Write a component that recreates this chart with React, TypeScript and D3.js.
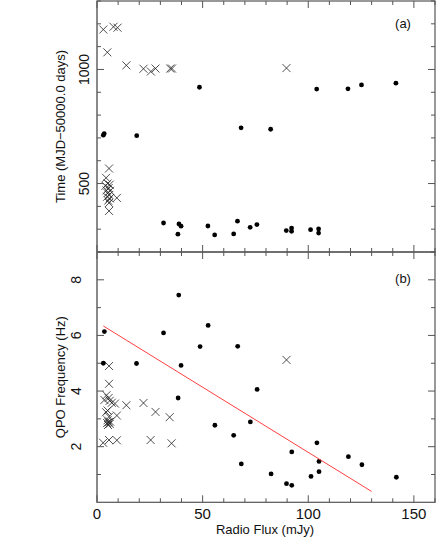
import React from "react";
import * as d3 from "d3";

// Panel (a): Time vs Radio Flux ; Panel (b): QPO frequency vs Radio Flux
const dotsTime: [number, number][] = [
  [48.5, 922], [68.2, 744], [82.2, 738], [104.0, 914], [118.8, 915], [125.2, 932], [141.5, 940],
  [3.0, 712], [3.4, 719], [18.8, 710],
  [31.5, 327], [38.3, 278], [38.8, 323], [39.8, 313], [52.5, 314], [55.7, 275], [64.7, 279],
  [66.5, 335], [72.5, 308], [75.7, 320], [89.6, 294], [92.1, 305], [92.1, 291], [101.1, 298],
  [104.9, 301], [104.9, 283],
];

const crossesTime: [number, number][] = [
  [3.0, 1175], [4.9, 1075], [7.8, 1187], [9.7, 1183], [13.9, 1018], [22.0, 1003], [25.5, 991],
  [27.7, 1004], [34.7, 1004], [35.5, 1004], [89.7, 1006],
  [5.7, 566], [4.3, 525], [5.0, 500], [4.0, 490], [6.0, 495], [5.5, 480], [4.5, 470], [6.2, 468],
  [5.0, 458], [5.8, 450], [4.8, 442], [6.0, 435], [5.3, 425], [5.7, 415], [9.4, 437], [5.7, 380],
];

const dotsQpo: [number, number][] = [
  [3.0, 5.0], [3.5, 6.14], [18.7, 4.99], [31.5, 6.09], [38.7, 7.45], [39.8, 4.92], [38.4, 3.75],
  [48.8, 5.6], [52.6, 6.36], [55.8, 2.77], [64.7, 2.41], [66.6, 5.61], [68.3, 1.38], [72.6, 2.89],
  [75.8, 4.06], [82.4, 1.02], [89.7, 0.67], [92.2, 0.61], [92.2, 1.81], [101.3, 0.93], [104.1, 2.14],
  [105.1, 1.47], [105.1, 1.1], [119.0, 1.64], [125.4, 1.35], [141.7, 0.9],
];

const crossesQpo: [number, number][] = [
  [2.9, 2.14], [5.7, 2.24], [9.4, 2.23], [5.7, 4.9], [5.7, 4.26], [9.4, 3.12], [13.9, 3.49],
  [22.0, 3.57], [27.7, 3.25], [34.4, 3.06], [25.4, 2.24], [35.3, 2.12], [89.7, 5.12],
  [3.5, 3.68], [4.5, 3.85], [5.5, 3.75], [6.0, 3.65], [7.0, 3.58], [8.5, 3.55], [4.3, 3.24],
  [5.0, 3.3], [5.7, 3.08], [5.0, 2.95], [5.5, 2.88], [6.0, 2.82], [5.2, 2.78], [6.2, 2.9], [4.8, 2.85],
];

const fitLine: [number, number][] = [[3, 6.34], [130, 0.39]];

const xMajor = [0, 50, 100, 150];
const xMinor = d3.range(0, 161, 10);
const yaMajor = [500, 1000];
const yaMinor = d3.range(300, 1301, 100);
const ybMajor = [2, 4, 6, 8];
const ybMinor = d3.range(1, 10, 1);

const W = 436, H = 541;
const L = 97, R = 435, T = 1, MID = 252, B = 502.3;
const FONT = "'Liberation Sans', Arial, Helvetica, sans-serif";

export default function App() {
  const x = d3.scaleLinear().domain([0, 160]).range([L, R]);
  const ya = d3.scaleLinear().domain([200, 1300]).range([MID, T]);
  const yb = d3.scaleLinear().domain([0, 9]).range([B, MID]);
  const line = d3.line<[number, number]>().x(d => x(d[0])).y(d => yb(d[1]));
  const frame = "#555";
  const maj = 7, min = 4;

  const xTicks = (top: number, bottom: number) => (
    <g stroke={frame} strokeWidth={1}>
      {xMinor.map(v => {
        const len = xMajor.includes(v) ? maj : min;
        return (
          <g key={v}>
            <line x1={x(v)} x2={x(v)} y1={top} y2={top + len} />
            <line x1={x(v)} x2={x(v)} y1={bottom} y2={bottom - len} />
          </g>
        );
      })}
    </g>
  );

  const yTicks = (scale: d3.ScaleLinear<number, number>, minor: number[], major: number[]) => (
    <g stroke={frame} strokeWidth={1}>
      {minor.map(v => {
        const len = major.includes(v) ? maj : min;
        return (
          <g key={v}>
            <line x1={L} x2={L + len} y1={scale(v)} y2={scale(v)} />
            <line x1={R} x2={R - len} y1={scale(v)} y2={scale(v)} />
          </g>
        );
      })}
    </g>
  );

  const cross = (cx: number, cy: number, k: string) => {
    const s = 4;
    return (
      <path key={k} d={`M${cx - s},${cy - s}L${cx + s},${cy + s}M${cx - s},${cy + s}L${cx + s},${cy - s}`}
        stroke="#222" strokeWidth={0.8} fill="none" />
    );
  };

  return (
    <svg width={W} height={H} style={{ position: "absolute", left: 0, top: 0, background: "#fff" }}
      fontFamily={FONT}>
      <rect x={0} y={0} width={W} height={H} fill="#fff" />
      {/* panel a */}
      {crossesTime.map((d, i) => cross(x(d[0]), ya(d[1]), "ca" + i))}
      {dotsTime.map((d, i) => <circle key={"da" + i} cx={x(d[0])} cy={ya(d[1])} r={2.4} fill="#000" />)}
      {/* panel b */}
      {crossesQpo.map((d, i) => cross(x(d[0]), yb(d[1]), "cb" + i))}
      {dotsQpo.map((d, i) => <circle key={"db" + i} cx={x(d[0])} cy={yb(d[1])} r={2.4} fill="#000" />)}
      <path d={line(fitLine) || ""} stroke="#ff4040" strokeWidth={1} fill="none" />

      {/* frames */}
      <rect x={L} y={T} width={R - L} height={MID - T} fill="none" stroke={frame} strokeWidth={1.2} />
      <rect x={L} y={MID} width={R - L} height={B - MID} fill="none" stroke={frame} strokeWidth={1.2} />
      <line x1={L} x2={L} y1={T} y2={B} stroke="#888" strokeWidth={1.8} />
      {xTicks(T, MID)}
      {xTicks(MID, B)}
      {yTicks(ya, yaMinor, yaMajor)}
      {yTicks(yb, ybMinor, ybMajor)}

      {/* tick labels */}
      <g fill="#111">
        {xMajor.map(v => (
          <text key={v} x={x(v)} y={B + 17} textAnchor="middle" fontSize={15}>{v}</text>
        ))}
        {yaMajor.map(v => (
          <text key={v} transform={`translate(${L - 8},${ya(v)}) rotate(-90)`} textAnchor="middle" fontSize={14}>{v}</text>
        ))}
        {ybMajor.map(v => (
          <text key={v} transform={`translate(${L - 16},${yb(v)}) rotate(-90)`} textAnchor="middle" fontSize={14}>{v}</text>
        ))}
      </g>

      {/* axis titles */}
      <g fontSize={13} fill="#111">
        <text x={(L + x(160)) / 2 - 1} y={B + 32} textAnchor="middle">Radio Flux (mJy)</text>
        <text transform={`translate(${65},${(T + MID) / 2}) rotate(-90)`} textAnchor="middle">Time (MJD−50000.0 days)</text>
        <text transform={`translate(${65},${(MID + B) / 2}) rotate(-90)`} textAnchor="middle">QPO Frequency (Hz)</text>
        <text x={403} y={28} textAnchor="middle">(a)</text>
        <text x={403} y={283} textAnchor="middle">(b)</text>
      </g>
    </svg>
  );
}
